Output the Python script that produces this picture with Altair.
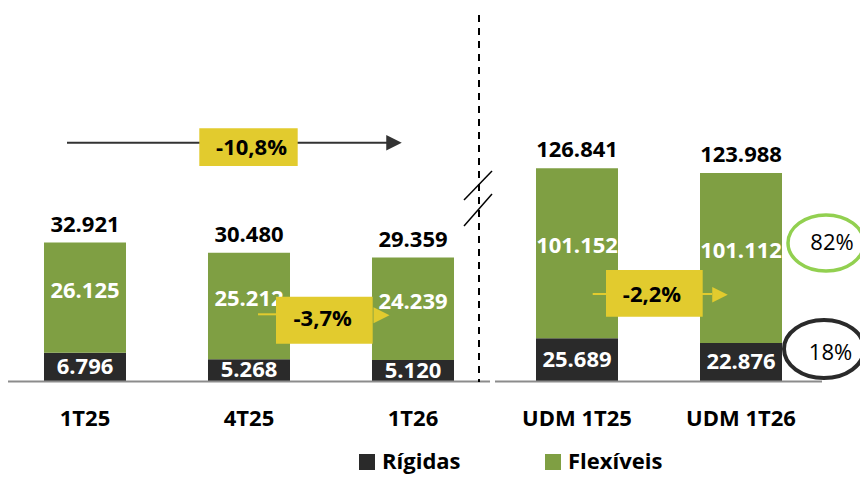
import altair as alt
import pandas as pd

categories = ["1T25", "4T25", "1T26", "UDM 1T25", "UDM 1T26"]
groups = ["T", "T", "T", "UDM", "UDM"]
rigidas = [6796, 5268, 5120, 25689, 22876]
flexiveis = [26125, 25212, 24239, 101152, 101112]
totals = [32921, 30480, 29359, 126841, 123988]
series = ["Rígidas", "Flexíveis"]
variation_labels = ["-10,8%", "-3,7%", "-2,2%"]
share_labels = ["82%", "18%"]

FONT = "Open Sans"
GREEN = "#7F9F43"
DARK = "#2A2A2A"
YELLOW = "#E2CB2E"
LIGHTGREEN = "#92D050"


def fmt(v):
    return f"{v:,}".replace(",", ".")


rows = []
for c, g, r, f in zip(categories, groups, rigidas, flexiveis):
    rows.append(dict(cat=c, grp=g, serie=series[0], value=r, order=0, mid=r / 2, label=fmt(r)))
    rows.append(dict(cat=c, grp=g, serie=series[1], value=f, order=1, mid=r + f / 2, label=fmt(f)))
df = pd.DataFrame(rows)
tot = pd.DataFrame(dict(cat=categories, grp=groups, total=totals, label=[fmt(t) for t in totals]))

x_enc = alt.X(
    "cat:N",
    sort=None,
    scale=alt.Scale(domain=categories, paddingInner=0.5, paddingOuter=0.2195),
    axis=alt.Axis(title=None, labelAngle=0, domain=False, ticks=False, tickSize=0,
                  labelPadding=27, labelFont=FONT, labelFontWeight="bold",
                  labelFontSize=22, labelColor="black"),
)
color_enc = alt.Color(
    "serie:N",
    scale=alt.Scale(domain=series, range=[DARK, GREEN]),
    legend=alt.Legend(title=None, orient="none", legendX=348, legendY=443,
                      direction="horizontal", symbolType="square", symbolSize=256,
                      symbolStrokeWidth=0, labelFont=FONT, labelFontWeight="bold",
                      labelFontSize=22, labelColor="black", columnPadding=81,
                      labelOffset=4, padding=0, labelLimit=0),
)


def group_layer(grp, ymax):
    d = df[df.grp == grp]
    t = tot[tot.grp == grp]
    ys = alt.Scale(domain=[0, ymax], nice=False, zero=True)
    bars = alt.Chart(d).mark_bar().encode(
        x=x_enc,
        y=alt.Y("value:Q", stack="zero", scale=ys, axis=None),
        color=color_enc,
        order=alt.Order("order:Q"),
    )
    rig_txt = alt.Chart(d).transform_filter(alt.datum.order == 0).mark_text(
        font=FONT, fontWeight="bold", fontSize=22, color="white", baseline="middle"
    ).encode(x=x_enc, y=alt.Y("mid:Q", scale=ys, axis=None), text="label:N")
    flex_txt = alt.Chart(d).transform_filter(alt.datum.order == 1).mark_text(
        font=FONT, fontWeight="bold", fontSize=22, color="white", baseline="middle", dy=-7
    ).encode(x=x_enc, y=alt.Y("mid:Q", scale=ys, axis=None), text="label:N")
    tot_txt = alt.Chart(t).mark_text(
        font=FONT, fontWeight="bold", fontSize=22, color="black", baseline="middle", dy=-18
    ).encode(x=x_enc, y=alt.Y("total:Q", scale=ys, axis=None), text="label:N")
    return alt.layer(bars, rig_txt, flex_txt, tot_txt)


one = pd.DataFrame({"k": [0]})


def rule(x1, y1, x2, y2, color, width, dash=None):
    kw = dict(color=color, strokeWidth=width)
    if dash:
        kw["strokeDash"] = dash
    return alt.Chart(one).mark_rule(**kw).encode(
        x=alt.value(x1), y=alt.value(y1), x2=alt.value(x2), y2=alt.value(y2))


def box(x1, y1, x2, y2, color):
    return alt.Chart(one).mark_rect(color=color).encode(
        x=alt.value(x1), y=alt.value(y1), x2=alt.value(x2), y2=alt.value(y2))


def label(x, y, txt, weight="bold", size=22):
    return alt.Chart(one).mark_text(font=FONT, fontWeight=weight, fontSize=size,
                                    color="black", baseline="middle").encode(
        x=alt.value(x), y=alt.value(y), text=alt.value(txt))


TRI = "M-1,-1L1,0L-1,1Z"


def tri(x, y, color, size):
    return alt.Chart(one).mark_point(shape=TRI, filled=True, color=color, size=size,
                                     opacity=1, strokeWidth=0).encode(
        x=alt.value(x), y=alt.value(y))


def ellipse(x, y, w, h, color, width):
    r = h / w
    path = f"M-1,0A1,{r:.3f},0,1,0,1,0A1,{r:.3f},0,1,0,-1,0Z"
    return alt.Chart(one).mark_point(shape=path, filled=False, color=color, size=w * w,
                                     strokeWidth=width, opacity=1).encode(
        x=alt.value(x), y=alt.value(y))


annotations = [
    # base lines
    rule(0, 373.5, 482, 373.5, "#8C8C8C", 2),
    rule(487, 373.5, 814, 373.5, "#8C8C8C", 2),
    # dashed separator and break marks
    rule(471, 7, 471, 374, "black", 2, [7, 6]),
    rule(456, 192, 484, 163, "black", 1.5),
    rule(456, 218, 484, 186, "black", 1.5),
    # top arrow -10,8%
    rule(59, 134.7, 386, 134.7, "#333333", 2),
    tri(386, 134.7, "#333333", 240),
    box(191.3, 120.3, 289.7, 158, YELLOW),
    label(243.5, 140, variation_labels[0]),
    # -3,7%
    rule(250, 306.3, 268, 306.3, YELLOW, 2),
    box(268, 288.7, 364.7, 335.7, YELLOW),
    tri(373.5, 307.3, YELLOW, 256),
    label(314.7, 311, variation_labels[1]),
    # -2,2%
    rule(584.7, 286, 704, 286, YELLOW, 2),
    box(598, 262, 694.7, 308.7, YELLOW),
    tri(712, 286.8, YELLOW, 240),
    label(644, 286.5, variation_labels[2]),
    # share ellipses
    ellipse(818, 235, 76, 56, LIGHTGREEN, 3.5),
    label(824, 235, share_labels[0], weight="normal"),
    ellipse(816, 341, 80, 58, DARK, 4),
    label(822.5, 345, share_labels[1], weight="normal"),
]

chart = alt.layer(
    group_layer("T", 88465),
    group_layer("UDM", 222057),
    *annotations,
).resolve_scale(y="independent").properties(
    width=810,
    height=373.5,
    autosize=alt.AutoSizeParams(type="none"),
    padding={"left": 0, "top": 0, "right": 42, "bottom": 92.5},
).configure_view(strokeWidth=0)

chart.save("out.html", embed_options={"renderer": "svg", "actions": False})
